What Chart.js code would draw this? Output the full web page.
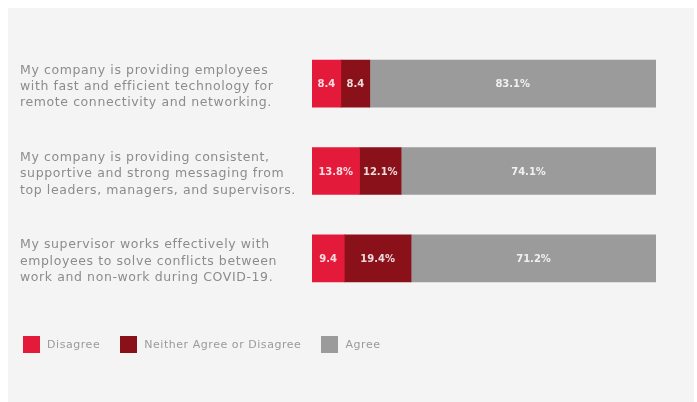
<!DOCTYPE html>
<html>
<head>
<meta charset="utf-8">
<script src="https://cdn.jsdelivr.net/npm/chart.js"></script>
<style>
  html, body { margin: 0; padding: 0; background: #ffffff; }
  #panel { position: absolute; left: 8px; top: 8px; width: 686px; height: 394px; background: #f4f4f4; }
  #wrap { position: absolute; left: 0; top: 0; width: 697px; height: 402px; }
  #legend { position: absolute; left: 23px; top: 336px; font: 11px "DejaVu Sans", sans-serif; letter-spacing: 0.55px; color: #9a9a9a; display: flex; }
  #legend .item { display: flex; align-items: center; margin-right: 20px; }
  #legend .box { width: 17px; height: 17px; margin-right: 7px; }
</style>
</head>
<body>
<div id="panel"></div>
<div id="wrap"><canvas id="chart"></canvas></div>
<div id="legend"></div>
<script>
// survey statements, one per bar
const statements = [
  ["My company is providing employees", "with fast and efficient technology for", "remote connectivity and networking."],
  ["My company is providing consistent,", "supportive and strong messaging from", "top leaders, managers, and supervisors."],
  ["My supervisor works effectively with", "employees to solve conflicts between", "work and non-work during COVID-19."]
];

// share of responses (%)
const disagree = [8.4, 13.8, 9.4];
const neither = [8.4, 12.1, 19.4];
const agree = [83.1, 74.1, 71.2];

// whether the bar label carries a % sign
const disagreePct = [false, true, false];
const neitherPct = [false, true, true];
const agreePct = [true, true, true];

const seriesNames = ["Disagree", "Neither Agree or Disagree", "Agree"];
const colors = ["#e41a3b", "#8a1119", "#9b9b9b"];

// a little tracking on the statement text
const tracking = {
  id: "tracking",
  beforeDraw(chart) { chart.ctx.letterSpacing = "0.6px"; }
};

// writes the value in the middle of each segment
const segmentLabels = {
  id: "segmentLabels",
  afterDatasetsDraw(chart) {
    const ctx = chart.ctx;
    ctx.save();
    ctx.letterSpacing = "0px";
    ctx.font = "bold 10px 'DejaVu Sans', sans-serif";
    ctx.fillStyle = "rgba(255,255,255,0.85)";
    ctx.textAlign = "center";
    ctx.textBaseline = "middle";
    chart.data.datasets.forEach((ds, i) => {
      chart.getDatasetMeta(i).data.forEach((bar, j) => {
        const { x, base, y } = bar.getProps(["x", "base", "y"], true);
        const text = ds.data[j] + (ds.pct[j] ? "%" : "");
        ctx.fillText(text, (x + base) / 2, y + 1);
      });
    });
    ctx.restore();
  }
};

const chart = new Chart(document.getElementById("chart"), {
  type: "bar",
  data: {
    labels: statements,
    datasets: [
      { label: seriesNames[0], data: disagree, pct: disagreePct, backgroundColor: colors[0] },
      { label: seriesNames[1], data: neither, pct: neitherPct, backgroundColor: colors[1] },
      { label: seriesNames[2], data: agree, pct: agreePct, backgroundColor: colors[2] }
    ]
  },
  options: {
    indexAxis: "y",
    responsive: true,
    maintainAspectRatio: false,
    animation: false,
    layout: { padding: { left: 20, right: 41, top: 40, bottom: 100 } },
    datasets: { bar: { barThickness: 47, borderWidth: 0 } },
    scales: {
      x: { stacked: true, min: 0, max: 100, display: false },
      y: {
        stacked: true,
        grid: { display: false },
        border: { display: false },
        ticks: {
          crossAlign: "far",
          labelOffset: 3,
          color: "#8c8c8c",
          font: { family: "'DejaVu Sans', sans-serif", size: 12.5, lineHeight: 1.3 }
        },
        afterFit(scale) { scale.width = 292; }
      }
    },
    plugins: {
      legend: { display: false },
      tooltip: { enabled: false }
    }
  },
  plugins: [tracking, segmentLabels]
});

// legend built from the datasets
const legend = document.getElementById("legend");
chart.data.datasets.forEach(ds => {
  const item = document.createElement("div");
  item.className = "item";
  const box = document.createElement("span");
  box.className = "box";
  box.style.background = ds.backgroundColor;
  const label = document.createElement("span");
  label.textContent = ds.label;
  item.appendChild(box);
  item.appendChild(label);
  legend.appendChild(item);
});
</script>
</body>
</html>
